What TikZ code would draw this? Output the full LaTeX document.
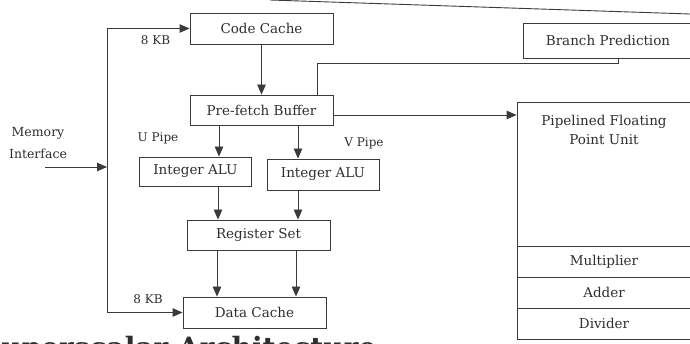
\documentclass[tikz,border=0pt]{standalone}
\usepackage{fontspec}
\setmainfont{DejaVu Serif}
\usetikzlibrary{arrows.meta}
\definecolor{linec}{HTML}{3A3A3A}
\definecolor{textc}{HTML}{2E2E2E}
\begin{document}
\begin{tikzpicture}[x=1pt,y=-1pt,
  box/.style={draw=linec, line width=0.9pt, inner sep=0pt, text=textc, font=\fontsize{13.5}{16}\selectfont},
  lbl/.style={inner sep=0pt, text=textc, font=\fontsize{13.5}{16}\selectfont},
  small/.style={inner sep=0pt, text=textc, font=\fontsize{12}{14}\selectfont},
  conn/.style={draw=linec, line width=0.9pt},
  arr/.style={conn, -{Triangle[length=10pt,width=8.5pt]}}
]
\useasboundingbox (0,0) rectangle (690,344);
% boxes
\node[box, minimum width=143pt, minimum height=31pt] (cc) at (261.5,28.5) {Code Cache};
\node[box, minimum width=143pt, minimum height=30pt] (pf) at (261.5,110) {Pre-fetch Buffer};
\node[box, minimum width=170pt, minimum height=35pt] (bp) at (608,40.5) {Branch Prediction};
\node[box, minimum width=112pt, minimum height=29pt] (alu1) at (195.5,171.5) {Integer ALU};
\node[box, minimum width=112pt, minimum height=31pt] (alu2) at (323,174.5) {Integer ALU};
\node[box, minimum width=143pt, minimum height=30pt] (rs) at (258.5,235) {Register Set};
\node[box, minimum width=143pt, minimum height=31pt] (dc) at (254.5,312.5) {Data Cache};
% FPU
\node[box, minimum width=176pt, minimum height=237pt] (fpu) at (605,220.5) {};
\node[lbl, align=center] (fput) at (604,130) {Pipelined Floating\\[3pt]Point Unit};
\node[box, minimum width=176pt, minimum height=31pt] (mul) at (605,261.5) {\hspace*{-2pt}Multiplier};
\node[box, minimum width=176pt, minimum height=31pt] (add) at (605,292.5) {\hspace*{-2pt}Adder};
\node[box, minimum width=176pt, minimum height=31pt] (div) at (605,323.5) {\hspace*{-2pt}Divider};
% labels
\node[small] (kb1) at (155.5,40) {8 KB};
\node[small] (kb2) at (148,299.5) {8 KB};
\node[small] (up) at (158,138) {U Pipe};
\node[small] (vp) at (364,143) {V Pipe};
\node[lbl, font=\fontsize{12.5}{14}\selectfont] (mem1) at (38,133) {Memory};
\node[lbl, font=\fontsize{12.5}{14}\selectfont] (mem2) at (38,154) {Interface};
% title (cut off at bottom edge)
\node[anchor=base west, inner sep=0pt, text=textc, font=\bfseries\fontsize{28}{30}\selectfont] (title) at (-19,357) {Superscalar Architecture};
% connectors
\coordinate (mem) at (45,167);
\coordinate (vm) at (107,167);
\coordinate (vt) at (107,28.5);
\coordinate (vb) at (107,312.5);
\draw[arr] (mem) -- (vm);
\draw[conn] (vb) -- (vt);
\draw[arr] (vt) -- (cc.west);
\draw[arr] (vb) -- (dc.west);
\draw[arr] (cc) -- (pf);
\coordinate (u) at (219,0);
\coordinate (v) at (298,0);
\coordinate (u2) at (218,0);
\coordinate (u3) at (217,0);
\coordinate (v3) at (296,0);
\draw[arr] (pf.south -| u) -- (alu1.north -| u);
\draw[arr] (pf.south -| v) -- (alu2.north -| v);
\draw[arr] (alu1.south -| u2) -- (rs.north -| u2);
\draw[arr] (alu2.south -| v) -- (rs.north -| v);
\draw[arr] (rs.south -| u3) -- (dc.north -| u3);
\draw[arr] (rs.south -| v3) -- (dc.north -| v3);
\coordinate (b1) at (317,63);
\coordinate (b2) at (618,63);
\draw[conn] (pf.north -| b1) -- (b1) -- (b2) -- (bp.south -| b2);
\coordinate (f) at (0,115);
\draw[arr] (pf.east |- f) -- (fpu.west |- f);
% top edge line
\coordinate (t1) at (270,0);
\coordinate (t2) at (690,14);
\draw[conn] (t1) -- (t2);
\end{tikzpicture}
\end{document}
